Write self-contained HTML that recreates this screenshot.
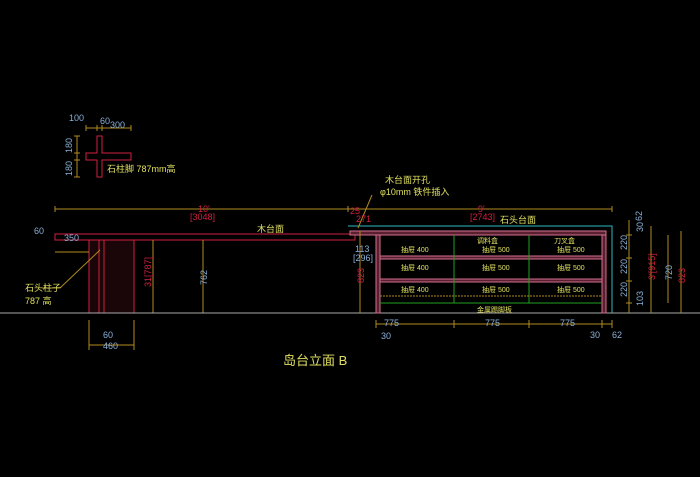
<!DOCTYPE html>
<html><head><meta charset="utf-8"><style>
html,body{margin:0;padding:0;background:#000;width:700px;height:477px;overflow:hidden}
svg{display:block}
text{font-family:"Liberation Sans","Noto Sans CJK SC",sans-serif}
</style></head><body>
<svg width="700" height="477" viewBox="0 0 700 477">
<rect width="700" height="477" fill="#000"/>
<g fill="none" stroke-width="1">
<path d="M97 136H102V153H131V160H102V177H97V160H86V153H97Z" stroke="#d02040"/>
<path d="M86 128H131M86 125V131M97 125V131M102 125V131M131 125V131" stroke="#b08a20"/>
<path d="M77 136V177M74 136H80M74 153H80M74 160H80M74 177H80" stroke="#b08a20"/>
<path d="M55 209H612M55 206V212M348 206V212M612 206V212" stroke="#b08a20"/>
<rect x="55" y="234" width="300" height="6" stroke="#d02040"/>
<path d="M355 234H350" stroke="#d02040"/>
<rect x="89" y="240" width="45" height="73" stroke="#d02040" fill="#1a0508"/>
<path d="M99 240V313M104 240V313" stroke="#d02040"/>
<path d="M153 240V313M203 240V313M55 252H89M89 345H134M89 342V348M134 342V348M89 320V350M134 320V350" stroke="#b08a20"/>
<path d="M42 288H60L100 250" stroke="#b08a20"/>
<path d="M0 313H700" stroke="#aaa"/>
<path d="M348 226H612V313" stroke="#2bb8c0"/>
<rect x="350" y="231" width="256" height="4" stroke="#d07090" fill="#5a2030"/>
<rect x="376" y="235" width="4" height="78" stroke="#d07090" fill="#5a2030"/>
<rect x="602" y="235" width="4" height="78" stroke="#d07090" fill="#5a2030"/>
<rect x="380" y="256" width="222" height="3" stroke="#d07090" fill="#5a2030"/>
<rect x="380" y="279" width="222" height="3" stroke="#d07090" fill="#5a2030"/>
<path d="M454 235V303M529 235V303M380 303H602" stroke="#20a020"/>
<path d="M380 296H602" stroke="#b08a20" stroke-dasharray="2 1"/>
<path d="M376 324H612M376 320V328M454 320V328M529 320V328M602 320V328M612 320V328" stroke="#b08a20"/>
<path d="M360 231V313M629 220V313M651 226V313M668 235V303M681 231V313M626 235H632M626 258H632M626 281H632M626 303H632" stroke="#b08a20"/>
<path d="M372 195L358 228" stroke="#b08a20"/>
</g>
<g font-size="9" fill="#8ab0d8">
<text x="69" y="121">100</text><text x="100" y="124">60</text><text x="110" y="128">300</text>
<text x="64" y="241">350</text><text x="103" y="338">60</text><text x="103" y="349">460</text>
<text x="384" y="326">775</text><text x="485" y="326">775</text><text x="560" y="326">775</text>
<text x="381" y="339">30</text><text x="590" y="338">30</text><text x="612" y="338">62</text>
<text x="355" y="252">113</text><text x="353" y="261">[296]</text>
<text x="34" y="234">60</text>
<text transform="translate(207,285) rotate(-90)">762</text>
<text transform="translate(627,250) rotate(-90)">220</text>
<text transform="translate(627,274) rotate(-90)">220</text>
<text transform="translate(627,297) rotate(-90)">220</text>
<text transform="translate(643,306) rotate(-90)">103</text>
<text transform="translate(643,232) rotate(-90)">30</text>
<text transform="translate(642,221) rotate(-90)">62</text>
<text transform="translate(672,280) rotate(-90)">720</text>
<text transform="translate(72,153) rotate(-90)">180</text>
<text transform="translate(72,176) rotate(-90)">180</text>
</g>
<g font-size="9" fill="#d02040">
<text x="198" y="212">10'</text><text x="190" y="220">[3048]</text>
<text x="478" y="212">9'</text><text x="470" y="220">[2743]</text>
<text x="350" y="214">25</text><text x="356" y="222">271</text>
<text transform="translate(364,283) rotate(-90)">823</text>
<text transform="translate(685,283) rotate(-90)">823</text>
<text transform="translate(655,280) rotate(-90)">3'[915]</text>
<text transform="translate(151,287) rotate(-90)">31[787]</text>
</g>
<g font-size="9" fill="#e0e060">
<text x="107" y="172">石柱脚 787mm高</text>
<text x="257" y="232">木台面</text>
<text x="500" y="223">石头台面</text>
<text x="25" y="291">石头柱子</text><text x="25" y="304">787 高</text>
<text x="385" y="183">木台面开孔</text><text x="380" y="195">φ10mm 铁件插入</text>
<text x="477" y="243" font-size="7">调料盒</text><text x="554" y="243" font-size="7">刀叉盒</text>
<g font-size="7"><text x="401" y="252">抽屉 400</text><text x="482" y="252">抽屉 500</text><text x="557" y="252">抽屉 500</text>
<text x="401" y="270">抽屉 400</text><text x="482" y="270">抽屉 500</text><text x="557" y="270">抽屉 500</text>
<text x="401" y="292">抽屉 400</text><text x="482" y="292">抽屉 500</text><text x="557" y="292">抽屉 500</text>
<text x="477" y="312">金属踢脚板</text></g>
<text x="283" y="365" font-size="13">岛台立面 B</text>
</g>
</svg>
</body></html>
